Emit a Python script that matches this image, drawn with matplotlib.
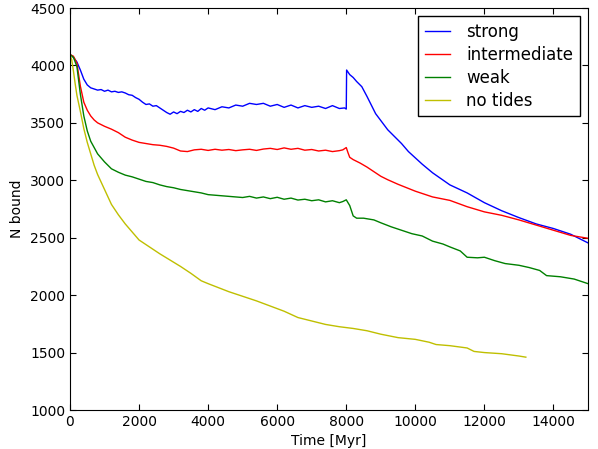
import numpy as np
import matplotlib
matplotlib.use("Agg")
import matplotlib.pyplot as plt

# time [Myr] and number of bound stars
t_strong = [0, 100, 200, 300, 400, 500, 600, 700, 800, 900, 1000, 1100, 1200, 1300, 1400,
            1500, 1600, 1700, 1800, 1900, 2000, 2100, 2200, 2300, 2400, 2500, 2600, 2700,
            2800, 2900, 3000, 3100, 3200, 3300, 3400, 3500, 3600, 3700, 3800, 3900, 4000,
            4200, 4400, 4600, 4800, 5000, 5200, 5400, 5600, 5800, 6000, 6200, 6400, 6600,
            6800, 7000, 7200, 7400, 7600, 7800, 7950, 8000, 8010, 8100, 8200, 8300, 8450,
            8600, 8700, 8850, 9000, 9200, 9400, 9600, 9800, 10000, 10200, 10500, 11000,
            11500, 12000, 12500, 13000, 13500, 14000, 14500, 15000]
n_strong = [4095, 4070, 4030, 3960, 3880, 3830, 3805, 3795, 3785, 3790, 3775, 3785, 3770,
            3775, 3765, 3770, 3760, 3745, 3740, 3720, 3705, 3680, 3660, 3665, 3645, 3650,
            3630, 3610, 3590, 3575, 3595, 3580, 3600, 3590, 3610, 3595, 3615, 3600, 3625,
            3610, 3630, 3615, 3640, 3630, 3655, 3645, 3670, 3660, 3670, 3645, 3660, 3635,
            3655, 3630, 3650, 3635, 3645, 3625, 3650, 3625, 3630, 3620, 3960, 3920, 3895,
            3860, 3815, 3730, 3670, 3580, 3520, 3440, 3380, 3320, 3250, 3195, 3140, 3065,
            2960, 2890, 2805, 2735, 2675, 2620, 2580, 2530, 2455]

t_inter = [0, 100, 200, 300, 400, 500, 600, 700, 800, 1000, 1200, 1400, 1600, 1800, 2000,
           2200, 2400, 2600, 2800, 3000, 3200, 3400, 3600, 3800, 4000, 4200, 4400, 4600,
           4800, 5000, 5200, 5400, 5600, 5800, 6000, 6200, 6400, 6600, 6800, 7000, 7200,
           7400, 7600, 7800, 7900, 8000, 8050, 8100, 8200, 8400, 8600, 8800, 9000, 9200,
           9500, 10000, 10500, 11000, 11500, 12000, 12500, 13000, 13500, 14000, 14500, 15000]
n_inter = [4095, 4080, 4020, 3820, 3680, 3610, 3560, 3525, 3500, 3470, 3445, 3415, 3375,
           3350, 3330, 3320, 3310, 3305, 3295, 3280, 3255, 3250, 3265, 3270, 3260, 3270,
           3262, 3268, 3258, 3265, 3270, 3260, 3272, 3278, 3268, 3282, 3270, 3278, 3262,
           3268, 3255, 3262, 3250, 3258, 3265, 3285, 3240, 3200, 3180, 3150, 3115, 3075,
           3035, 3005, 2965, 2905, 2855, 2825, 2770, 2725, 2695, 2655, 2610, 2565, 2520, 2495]

t_weak = [0, 100, 200, 300, 400, 500, 600, 700, 800, 900, 1000, 1200, 1400, 1600, 1800,
          2000, 2200, 2400, 2600, 2800, 3000, 3200, 3400, 3600, 3800, 4000, 4200, 4400,
          4600, 4800, 5000, 5200, 5400, 5600, 5800, 6000, 6200, 6400, 6600, 6800, 7000,
          7200, 7400, 7600, 7800, 7900, 8000, 8100, 8200, 8300, 8500, 8800, 9000, 9300,
          9600, 9900, 10200, 10500, 10800, 11000, 11300, 11500, 11800, 12000, 12300, 12600,
          13000, 13300, 13600, 13800, 14200, 14600, 15000]
n_weak = [4095, 4070, 3990, 3750, 3560, 3430, 3340, 3285, 3230, 3195, 3160, 3100, 3070,
          3045, 3030, 3010, 2990, 2980, 2960, 2945, 2935, 2920, 2910, 2900, 2890, 2875,
          2870, 2865, 2860, 2855, 2850, 2860, 2845, 2855, 2840, 2852, 2835, 2845, 2828,
          2835, 2822, 2830, 2812, 2822, 2805, 2815, 2830, 2780, 2690, 2670, 2670, 2655,
          2630, 2595, 2565, 2535, 2515, 2470, 2445, 2420, 2385, 2330, 2325, 2330, 2300,
          2275, 2260, 2240, 2215, 2170, 2160, 2140, 2100]

t_none = [0, 50, 100, 150, 200, 300, 400, 500, 600, 700, 800, 1000, 1200, 1400, 1600, 1800,
          2000, 2300, 2600, 2900, 3200, 3500, 3800, 4000, 4300, 4600, 5000, 5400, 5800,
          6200, 6600, 7000, 7400, 7800, 8200, 8600, 9000, 9500, 10000, 10400, 10600, 11000,
          11500, 11700, 12000, 12500, 13000, 13200]
n_none = [4095, 4050, 3950, 3840, 3740, 3600, 3450, 3330, 3230, 3130, 3050, 2920, 2790,
          2700, 2620, 2550, 2480, 2420, 2360, 2305, 2250, 2190, 2125, 2100, 2065, 2030,
          1990, 1950, 1905, 1860, 1805, 1775, 1745, 1725, 1710, 1690, 1660, 1630, 1615,
          1590, 1570, 1560, 1540, 1510, 1500, 1490, 1470, 1460]

fig = plt.figure(figsize=(5.98, 4.49), dpi=100)
ax = fig.add_axes([70/598, 39/449, 518/598, 402/449])

ax.plot(t_strong, n_strong, color=(0, 0, 1), lw=1, label="strong")
ax.plot(t_inter, n_inter, color=(1, 0, 0), lw=1, label="intermediate")
ax.plot(t_weak, n_weak, color=(0, 0.5, 0), lw=1, label="weak")
ax.plot(t_none, n_none, color=(0.75, 0.75, 0), lw=1, label="no tides")

ax.set_xlim(0, 15000)
ax.set_ylim(1000, 4500)
ax.set_xticks(np.arange(0, 15000, 2000))
ax.set_yticks(np.arange(1000, 4501, 500))
ax.tick_params(direction="in", top=True, right=True, length=4, labelsize=10)
ax.set_xlabel("Time [Myr]", fontsize=10)
ax.set_ylabel("N bound", fontsize=10)

leg = ax.legend(loc="upper right", bbox_to_anchor=((580-70)/518, (410-16)/402),
                borderaxespad=0, fontsize=12, fancybox=False, handlelength=1.5,
                handletextpad=1.0, labelspacing=0.3, borderpad=0.4,
                framealpha=1, edgecolor="black")
leg.get_frame().set_linewidth(1)

fig.savefig("out.png", dpi=100)
